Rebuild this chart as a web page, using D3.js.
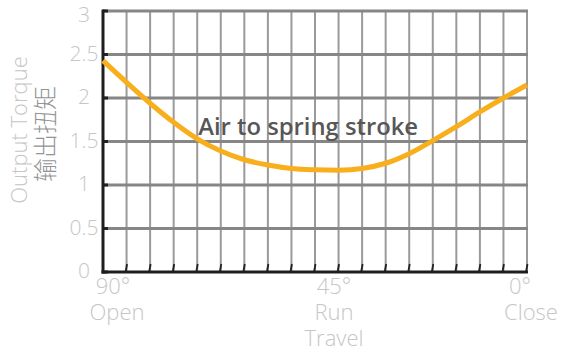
<!DOCTYPE html>
<html>
<head>
<meta charset="utf-8">
<script src="https://cdn.jsdelivr.net/npm/d3@7"></script>
<style>
  html, body { margin: 0; padding: 0; background: #fff; }
  svg { display: block; }
</style>
</head>
<body>
<svg id="chart" width="565" height="352"></svg>
<script>
// Output torque (air to spring stroke) across valve travel, 90° open -> 0° closed
const travelDeg = [90, 85, 80, 75, 70, 65, 60, 55, 50, 45, 40, 35, 30, 25, 20, 15, 10, 5, 0];
const torque    = [2.43, 2.18, 1.94, 1.72, 1.53, 1.39, 1.29, 1.23, 1.19, 1.175, 1.17, 1.19, 1.25, 1.36, 1.51, 1.67, 1.84, 2.0, 2.15];
const yTicks = [0, 0.5, 1, 1.5, 2, 2.5, 3];
const yTickLabels = ["0", "0.5", "1", "1.5", "2", "2.5", "3"];
const xGrid = d3.range(90, -1, -5);
const xLabels = [
  { deg: 90, lines: ["90°", "Open"] },
  { deg: 45, lines: ["45°", "Run", "Travel"] },
  { deg: 0,  lines: ["0°", "Close"] }
];
const seriesLabel = "Air to spring stroke";
const yTitle = "Output Torque";
const yTitleCn = "输出扭矩";

const svg = d3.select("#chart");
const plot = { left: 103, right: 527, top: 11, bottom: 272 };

const x = d3.scaleLinear().domain([90, 0]).range([plot.left, plot.right]);
const y = d3.scaleLinear().domain([0, 3]).range([plot.bottom, plot.top]);

const lightFont = "'Open Sans', Lato, 'Noto Sans', sans-serif";
const lightGrey = "#c6c6c6";

// vertical grid
svg.append("g").selectAll("line").data(xGrid).join("line")
  .attr("x1", d => x(d)).attr("x2", d => x(d))
  .attr("y1", plot.top).attr("y2", plot.bottom)
  .attr("stroke", "#9a9a9a").attr("stroke-width", 2);

// horizontal grid
svg.append("g").selectAll("line").data(yTicks.filter(d => d > 0)).join("line")
  .attr("x1", plot.left).attr("x2", plot.right + 1)
  .attr("y1", d => y(d)).attr("y2", d => y(d))
  .attr("stroke", "#868686").attr("stroke-width", 3);

// small dark ticks at the foot of each vertical grid line
svg.append("g").selectAll("line").data(xGrid.slice(1)).join("line")
  .attr("x1", d => x(d) - 1).attr("x2", d => x(d) + 0.5)
  .attr("y1", plot.bottom).attr("y2", plot.bottom - 8)
  .attr("stroke", "#222").attr("stroke-width", 1.8);

// dark stubs on the left axis
svg.append("g").selectAll("line").data(yTicks).join("line")
  .attr("x1", plot.left).attr("x2", plot.left + 5)
  .attr("y1", d => y(d)).attr("y2", d => y(d))
  .attr("stroke", "#222").attr("stroke-width", 3);

// axes
svg.append("line").attr("x1", plot.left).attr("x2", plot.left)
  .attr("y1", plot.top - 1.5).attr("y2", plot.bottom + 1.5)
  .attr("stroke", "#1e1e1e").attr("stroke-width", 3);
svg.append("line").attr("x1", plot.left - 1.5).attr("x2", plot.right + 1)
  .attr("y1", plot.bottom).attr("y2", plot.bottom)
  .attr("stroke", "#1e1e1e").attr("stroke-width", 3);

// torque curve
const line = d3.line()
  .x((d, i) => x(travelDeg[i]))
  .y(d => y(d))
  .curve(d3.curveMonotoneX);
svg.append("path").datum(torque)
  .attr("d", line)
  .attr("fill", "none")
  .attr("stroke", "#F9AE1B")
  .attr("stroke-width", 5)
  .attr("stroke-linecap", "butt");

// series label
svg.append("text")
  .attr("x", x(70) + 1).attr("y", 135)
  .attr("font-family", "'Open Sans', 'Noto Sans', sans-serif")
  .attr("font-weight", 600)
  .attr("font-size", 23.8)
  .attr("fill", "#575757")
  .text(seriesLabel);

// y tick labels
svg.append("g").selectAll("text").data(yTicks).join("text")
  .attr("x", 84)
  .attr("y", d => y(d) + (d === 3 ? 4 : -1))
  .attr("dy", "0.35em")
  .attr("text-anchor", "middle")
  .attr("font-family", lightFont)
  .attr("font-weight", 300)
  .attr("font-size", 21)
  .attr("fill", lightGrey)
  .text((d, i) => yTickLabels[i]);

// x labels: one stacked text block per position
const xl = svg.append("g");
xLabels.forEach(l => {
  const offset = l.deg === 90 ? 10 : (l.deg === 45 ? 19 : -7);
  const cx = x(l.deg) + offset;
  const t = xl.append("text")
    .attr("text-anchor", "middle")
    .attr("font-family", lightFont)
    .attr("font-weight", 300)
    .attr("font-size", 22)
    .attr("fill", lightGrey);
  l.lines.forEach((s, j) => {
    t.append("tspan")
      .attr("x", s === "Close" ? cx + 11 : cx + (s === "Open" ? 4 : 0))
      .attr("y", 294 + j * 26)
      .text(s);
  });
});

// y axis titles
svg.append("text")
  .attr("transform", "translate(27,130) rotate(-90)")
  .attr("text-anchor", "middle")
  .attr("font-family", lightFont)
  .attr("font-weight", 300)
  .attr("font-size", 22)
  .attr("fill", lightGrey)
  .text(yTitle);
svg.append("text")
  .attr("transform", "translate(54,134) rotate(-90)")
  .attr("text-anchor", "middle")
  .attr("font-family", "'Noto Sans CJK SC', sans-serif")
  .attr("font-weight", 300)
  .attr("font-size", 24)
  .attr("fill", "#949494")
  .text(yTitleCn);
</script>
</body>
</html>
